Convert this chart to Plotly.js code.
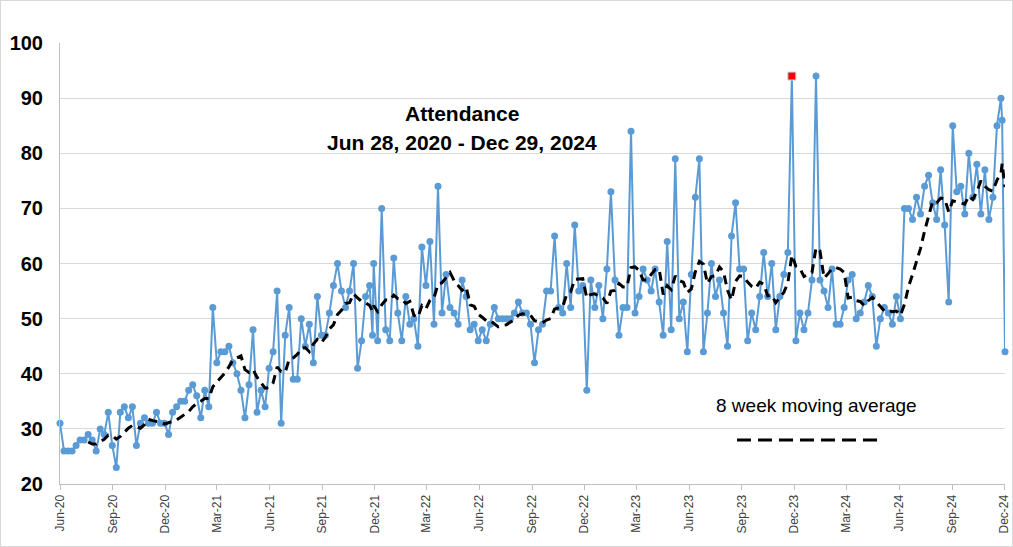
<!DOCTYPE html>
<html>
<head>
<meta charset="utf-8">
<script src="https://cdn.plot.ly/plotly-3.0.1.min.js"></script>
<style>
  html, body { margin: 0; padding: 0; background: #fff; }
  #wrap { position: relative; width: 1013px; height: 547px; }
  #chart { width: 1013px; height: 547px; }
  #frame { position: absolute; left: 0; top: 0; width: 1011px; height: 545px; border: 1px solid #d9d9d9; pointer-events: none; }
</style>
</head>
<body>
<div id="wrap"><div id="chart"></div><div id="frame"></div></div>
<script>
// Weekly Sunday attendance, first Sunday = Jun 28, 2020 (one value per week)
const firstSunday = '2020-06-28';
const weeklyAttendance = [
  31,26,26,26,27,28,28,29,28,26,
  30,29,33,27,23,33,34,32,34,27,
  31,32,31,31,33,31,31,29,33,34,
  35,35,37,38,36,32,37,34,52,42,
  44,44,45,42,40,37,32,38,48,33,
  37,34,41,44,55,31,47,52,39,39,
  50,45,49,42,54,47,47,51,56,60,
  55,52,55,60,41,46,54,56,60,46,
  70,48,46,61,51,46,54,49,50,45,
  63,56,64,49,74,51,58,52,51,49,
  57,54,48,49,46,48,46,49,52,50,
  50,50,50,51,53,51,51,49,42,48,
  49,55,55,65,52,51,60,52,67,55,
  56,37,57,52,56,50,59,73,57,47,
  52,52,84,51,54,59,57,55,59,53,
  47,64,48,79,50,53,44,58,72,79,
  44,51,60,54,57,51,45,65,71,59,
  59,46,51,48,54,62,54,60,48,54,
  58,62,94,46,51,48,51,57,94,57,
  55,52,59,49,49,52,57,58,50,51,
  53,56,54,45,50,52,51,49,54,50,
  70,70,68,72,69,74,76,71,68,77,
  67,53,85,73,74,69,80,72,78,69,
  77,68,72,85,90,44
];
// Extra (non-Sunday) Christmas Eve services
const extraDates = ['2021-12-24', '2024-12-24'];
const extraAttendance = [47, 86];
// Highlighted point
const highlightDate = '2023-12-24';
const movingAvgPeriod = 8;

const tickDates = ['2020-06-28','2020-09-28','2020-12-28','2021-03-28','2021-06-28','2021-09-28',
  '2021-12-28','2022-03-28','2022-06-28','2022-09-28','2022-12-28','2023-03-28','2023-06-28',
  '2023-09-28','2023-12-28','2024-03-28','2024-06-28','2024-09-28','2024-12-28'];
const tickLabels = ['Jun-20','Sep-20','Dec-20','Mar-21','Jun-21','Sep-21','Dec-21','Mar-22','Jun-22',
  'Sep-22','Dec-22','Mar-23','Jun-23','Sep-23','Dec-23','Mar-24','Jun-24','Sep-24','Dec-24'];

// Build dated points
function isoDate(d) { return d.toISOString().slice(0, 10); }
const pts = [];
const start = new Date(firstSunday + 'T00:00:00Z');
weeklyAttendance.forEach((v, i) => {
  const d = new Date(start.getTime() + i * 7 * 86400000);
  pts.push({ x: isoDate(d), y: v });
});
extraDates.forEach((d, k) => pts.push({ x: d, y: extraAttendance[k] }));
pts.sort((a, b) => a.x < b.x ? -1 : a.x > b.x ? 1 : 0);
const xs = pts.map(p => p.x);
const ys = pts.map(p => p.y);

// Moving average (like the spreadsheet trendline)
const maX = [], maY = [];
for (let k = movingAvgPeriod - 1; k < ys.length; k++) {
  let s = 0;
  for (let j = k - movingAvgPeriod + 1; j <= k; j++) s += ys[j];
  maX.push(xs[k]); maY.push(s / movingAvgPeriod);
}
const hiIdx = xs.indexOf(highlightDate);

const traces = [
  { type: 'scatter', mode: 'lines+markers', x: xs, y: ys,
    line: { color: '#5B9BD5', width: 2 },
    marker: { color: '#5B9BD5', size: 7, symbol: 'circle' },
    cliponaxis: false, hoverinfo: 'x+y' },
  { type: 'scatter', mode: 'lines', x: maX, y: maY,
    line: { color: '#000000', width: 3, dash: '9px,6px' },
    cliponaxis: false, hoverinfo: 'skip' },
  { type: 'scatter', mode: 'markers', x: [xs[hiIdx]], y: [ys[hiIdx]],
    marker: { color: '#FF0000', size: 8, symbol: 'square', line: { color: '#BDD7EE', width: 1 } },
    cliponaxis: false }
];

const layout = {
  width: 1013, height: 547,
  margin: { l: 60, r: 8, t: 43, b: 63 },
  paper_bgcolor: '#ffffff', plot_bgcolor: '#ffffff',
  showlegend: false,
  font: { family: 'Liberation Sans, Arial, sans-serif', color: '#000' },
  xaxis: {
    type: 'date', range: ['2020-06-28', '2024-12-29'],
    tickmode: 'array', tickvals: tickDates, ticktext: tickLabels,
    tickangle: -90, tickfont: { size: 12, color: '#404040' },
    ticks: 'outside', ticklen: 5, tickcolor: '#bfbfbf',
    showline: true, linecolor: '#bfbfbf', linewidth: 1,
    showgrid: false, zeroline: false
  },
  yaxis: {
    range: [20, 100], tick0: 20, dtick: 10,
    tickfont: { size: 20, weight: 'bold', color: '#000' },
    ticks: '', ticklabelstandoff: 12,
    showgrid: true, gridcolor: '#d9d9d9', gridwidth: 1,
    showline: true, linecolor: '#bfbfbf', linewidth: 1,
    zeroline: false
  },
  annotations: [
    { text: 'Attendance', xref: 'paper', yref: 'paper', x: 0.4254, y: 0.841,
      xanchor: 'center', yanchor: 'middle', showarrow: false,
      font: { size: 21, weight: 'bold', color: '#000' } },
    { text: 'Jun 28, 2020 - Dec 29, 2024', xref: 'paper', yref: 'paper', x: 0.4254, y: 0.7755,
      xanchor: 'center', yanchor: 'middle', showarrow: false,
      font: { size: 21, weight: 'bold', color: '#000' } },
    { text: '8 week moving average', xref: 'paper', yref: 'paper', x: 0.8, y: 0.179,
      xanchor: 'center', yanchor: 'middle', showarrow: false,
      font: { size: 19, color: '#000' } }
  ],
  shapes: [
    { type: 'line', xref: 'paper', yref: 'paper', x0: 0.7164, x1: 0.8698, y0: 0.0998, y1: 0.0998,
      line: { color: '#000', width: 3, dash: '14px,7px' } }
  ]
};

Plotly.newPlot('chart', traces, layout, { displayModeBar: false, staticPlot: true });
</script>
</body>
</html>
